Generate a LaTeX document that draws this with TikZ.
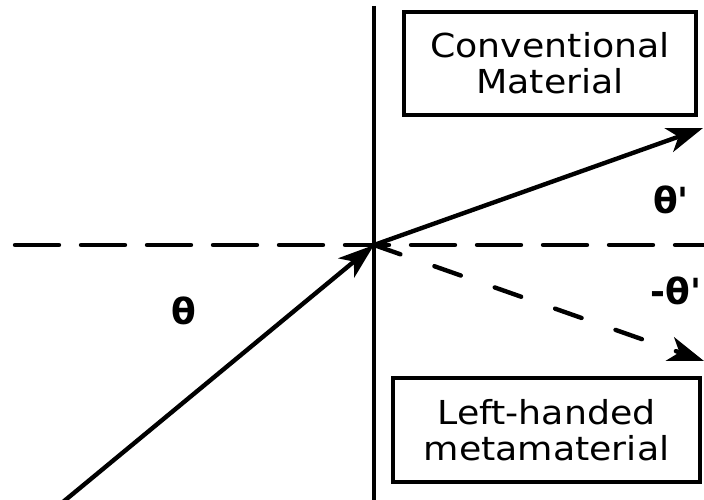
\documentclass[tikz,border=0pt]{standalone}
\usepackage{fontspec}
\setmainfont{DejaVu Sans}
\newfontfamily\boxfont[FakeStretch=1.1]{DejaVu Sans}
\newfontfamily\lblfont{DejaVu Sans}
\usetikzlibrary{arrows.meta}
\begin{document}
\begin{tikzpicture}[x=1pt,y=-1pt,
  ln/.style={line width=4.4pt},
  tipped/.style={-{Stealth[length=36pt,width=25pt,inset=10pt]}},
  hdash/.style={ln, line cap=round, dash pattern=on 44pt off 22pt},
  ddash/.style={ln, line cap=round, dash pattern=on 28pt off 36pt},
  matbox/.style={draw, line width=4.4pt, inner sep=0pt, font=\boxfont\fontsize{33}{36}\selectfont, align=center},
  ang/.style={inner sep=0pt, font=\lblfont\bfseries\fontsize{36}{40}\selectfont}]
\useasboundingbox (0,0) rectangle (704,500);
\fill[white] (0,0) rectangle (704,500);
% points
\coordinate (O) at (374,245);
\coordinate (A) at (63,502);
\coordinate (B) at (703,128);
\coordinate (C) at (704,361);
\coordinate (Vt) at (374,6);
\coordinate (Vb) at (374,505);
\coordinate (Hl) at (15,245);
\coordinate (Hr) at (712,245);
% interface and normal
\draw[ln] (Vt) -- (Vb);
\draw[hdash] (Hl) -- (Hr);
% rays
\draw[ln, tipped] (A) -- (O);
\draw[ln, tipped] (O) -- (B);
\draw[ddash, tipped] (O) -- (C);
% boxes
\node[matbox, minimum width=292pt, minimum height=103pt] (conv) at (550,63.5) {Conventional\\Material};
\node[matbox, minimum width=307pt, minimum height=104pt] (lhm) at (546.5,430) {Left-handed\\metamaterial};
% angle labels
\node[ang] (th) at (184,311) {θ};
\node[ang] (thp) at (671,200) {θ'};
\node[ang] (mthp) at (676,291) {-θ'};
\end{tikzpicture}
\end{document}
